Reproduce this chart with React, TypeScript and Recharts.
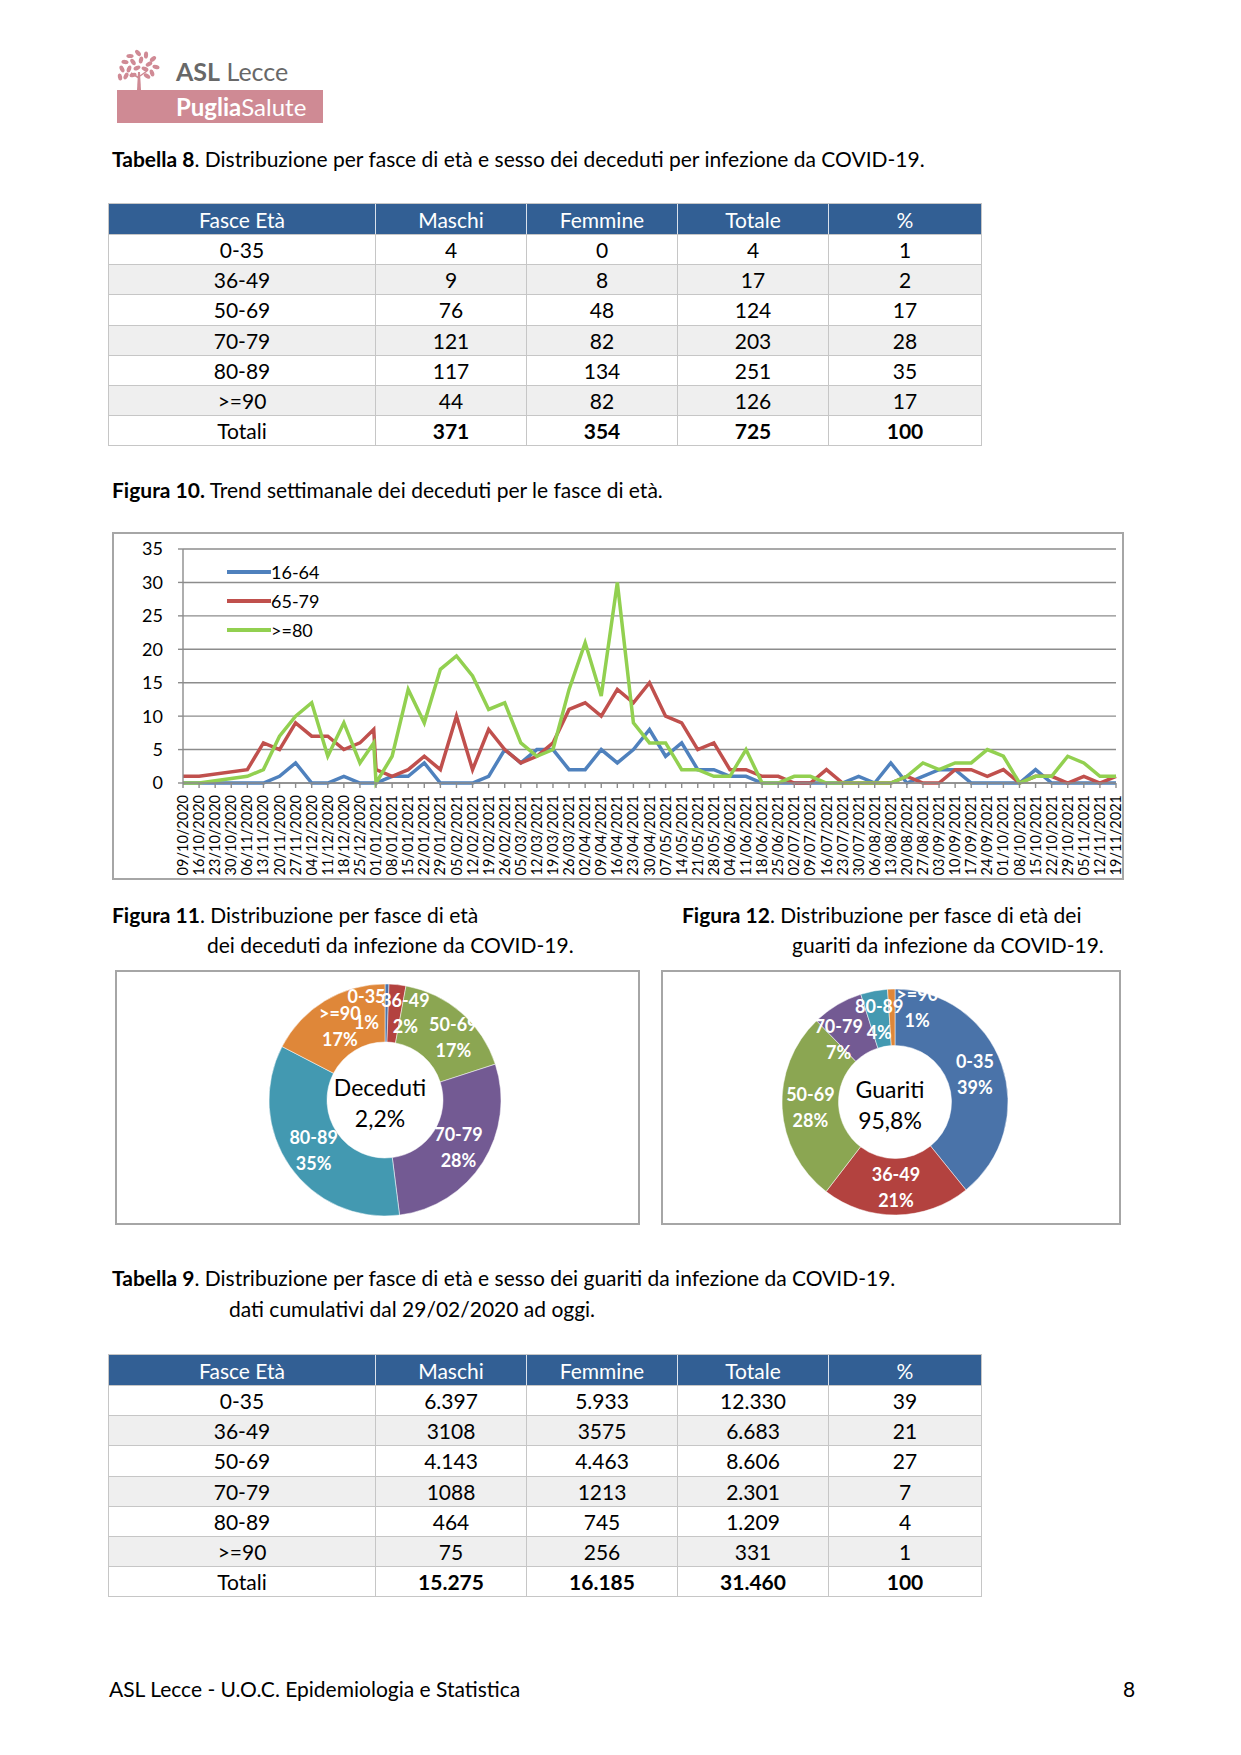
import React from 'react';
import { CartesianGrid, Cell, Line, LineChart, Pie, PieChart, XAxis, YAxis } from 'recharts';

const FONT = 'Lato, "Open Sans", sans-serif';

// ---- tabella 8 / 9
const fasce = ['0-35', '36-49', '50-69', '70-79', '80-89', '>=90'];
const decMaschi = ['4', '9', '76', '121', '117', '44'];
const decFemmine = ['0', '8', '48', '82', '134', '82'];
const decTotale = ['4', '17', '124', '203', '251', '126'];
const decPct = ['1', '2', '17', '28', '35', '17'];
const decTotali = ['371', '354', '725', '100'];

const guarMaschi = ['6.397', '3108', '4.143', '1088', '464', '75'];
const guarFemmine = ['5.933', '3575', '4.463', '1213', '745', '256'];
const guarTotale = ['12.330', '6.683', '8.606', '2.301', '1.209', '331'];
const guarPct = ['39', '21', '27', '7', '4', '1'];
const guarTotali = ['15.275', '16.185', '31.460', '100'];
const guarPieLabelPct = ['39', '21', '28', '7', '4', '1'];

// ---- figura 10
const weekLabels = [
  '09/10/2020', '16/10/2020', '23/10/2020', '30/10/2020', '06/11/2020', '13/11/2020', '20/11/2020', '27/11/2020',
  '04/12/2020', '11/12/2020', '18/12/2020', '25/12/2020', '01/01/2021', '08/01/2021', '15/01/2021', '22/01/2021',
  '29/01/2021', '05/02/2021', '12/02/2021', '19/02/2021', '26/02/2021', '05/03/2021', '12/03/2021', '19/03/2021',
  '26/03/2021', '02/04/2021', '09/04/2021', '16/04/2021', '23/04/2021', '30/04/2021', '07/05/2021', '14/05/2021',
  '21/05/2021', '28/05/2021', '04/06/2021', '11/06/2021', '18/06/2021', '25/06/2021', '02/07/2021', '09/07/2021',
  '16/07/2021', '23/07/2021', '30/07/2021', '06/08/2021', '13/08/2021', '20/08/2021', '27/08/2021', '03/09/2021',
  '10/09/2021', '17/09/2021', '24/09/2021', '01/10/2021', '08/10/2021', '15/10/2021', '22/10/2021', '29/10/2021',
  '05/11/2021', '12/11/2021', '19/11/2021',
];

const pointDates = [
  '09/10/2020', '16/10/2020', '06/11/2020', '13/11/2020', '20/11/2020', '27/11/2020', '04/12/2020', '11/12/2020',
  '18/12/2020', '25/12/2020', '31/12/2020', '01/01/2021', '08/01/2021', '15/01/2021', '22/01/2021', '29/01/2021',
  '05/02/2021', '12/02/2021', '19/02/2021', '26/02/2021', '05/03/2021', '12/03/2021', '19/03/2021', '26/03/2021',
  '02/04/2021', '09/04/2021', '16/04/2021', '23/04/2021', '30/04/2021', '07/05/2021', '14/05/2021', '21/05/2021',
  '28/05/2021', '04/06/2021', '11/06/2021', '18/06/2021', '25/06/2021', '02/07/2021', '09/07/2021', '16/07/2021',
  '23/07/2021', '30/07/2021', '06/08/2021', '13/08/2021', '20/08/2021', '27/08/2021', '03/09/2021', '10/09/2021',
  '17/09/2021', '24/09/2021', '01/10/2021', '08/10/2021', '15/10/2021', '22/10/2021', '29/10/2021', '05/11/2021',
  '12/11/2021', '19/11/2021',
];

const eta16_64 = [
  0, 0, 0, 0, 1, 3, 0, 0, 1, 0, 0,
  0, 1, 1, 3, 0, 0, 0, 1, 5, 3, 5, 5, 2, 2, 5, 3, 5, 8, 4, 6, 2, 2, 1, 1, 0, 0, 0, 0, 0, 0, 1, 0, 3, 0, 1, 2, 2,
  0, 0, 0, 0, 2, 0, 0, 0, 0, 0,
];
const eta65_79 = [
  1, 1, 2, 6, 5, 9, 7, 7, 5, 6, 8,
  2, 1, 2, 4, 2, 10, 2, 8, 5, 3, 4, 6, 11, 12, 10, 14, 12, 15, 10, 9, 5, 6, 2, 2, 1, 1, 0, 0, 2, 0, 0, 0, 0, 1, 0,
  0, 2, 2, 1, 2, 0, 1, 1, 0, 1, 0, 1,
];
const eta80 = [
  0, 0, 1, 2, 7, 10, 12, 4, 9, 3, 6,
  0, 4, 14, 9, 17, 19, 16, 11, 12, 6, 4, 5, 14, 21, 13, 30, 9, 6, 6, 2, 2, 1, 1, 5, 0, 0, 1, 1, 0, 0, 0, 0, 0, 1,
  3, 2, 3, 3, 5, 4, 0, 1, 1, 4, 3, 1, 1,
];
const yTicks = [0, 5, 10, 15, 20, 25, 30, 35];

const toDay = (s: string) => {
  const [d, m, y] = s.split('/').map(Number);
  return Math.round((Date.UTC(y, m - 1, d) - Date.UTC(2020, 9, 9)) / 86400000);
};
const tickDays = weekLabels.map(toDay);
const labelByDay: Record<number, string> = {};
weekLabels.forEach((l, i) => (labelByDay[tickDays[i]] = l));

const trendData = pointDates.map((d, i) => ({
  day: toDay(d),
  a: eta16_64[i],
  b: eta65_79[i],
  c: eta80[i],
}));

const SERIES = [
  { key: 'a', name: '16-64', color: '#4f81bd' },
  { key: 'b', name: '65-79', color: '#c0504d' },
  { key: 'c', name: '>=80', color: '#92d050' },
];

const PIE_COLORS = ['#4a73a9', '#b3423f', '#8ba652', '#735a93', '#4399b1', '#df8739'];

const toNum = (s: string) => Number(s.replace('.', ''));
const decedutiPie = fasce.map((f, i) => ({ name: f, value: toNum(decTotale[i]), pct: decPct[i] }));
const guaritiPie = fasce.map((f, i) => ({ name: f, value: toNum(guarTotale[i]), pct: guarPieLabelPct[i] }));

// Excel pushes crowded labels apart; small nudges (px) for those slices
const DEC_NUDGE: Record<number, number[]> = { 0: [-20, -4], 1: [11, -1], 2: [11, 2] };
const GUA_NUDGE: Record<number, number[]> = { 3: [-13, 10], 5: [25, -10] };

const GRID = '#8c8c8c';
const RAD = Math.PI / 180;

const DateTick = (props: any) => {
  const { x, y, payload } = props;
  return (
    <text
      x={x}
      y={y}
      transform={`rotate(-90 ${x} ${y})`}
      textAnchor="end"
      dy="0.35em"
      fontSize={14.5}
      fontFamily={FONT}
      fill="#000"
    >
      {labelByDay[payload.value]}
    </text>
  );
};

const makeSliceLabel = (nudge: Record<number, number[]>) => (props: any) => {
  const { cx, cy, midAngle, innerRadius, outerRadius, payload, index } = props;
  const r = (innerRadius + outerRadius) / 2;
  const [nx, ny] = nudge[index] || [0, 0];
  const x = cx + r * Math.cos(-midAngle * RAD) + nx;
  const y = cy + r * Math.sin(-midAngle * RAD) + ny;
  return (
    <text x={x} y={y} textAnchor="middle" fill="#fff" fontSize={18} fontWeight={700} fontFamily={FONT}>
      <tspan x={x} dy={-6}>{payload.name}</tspan>
      <tspan x={x} dy={26}>{payload.pct}%</tspan>
    </text>
  );
};

const Txt = ({ x, y, children, size = 21 }: any) => (
  <div style={{ position: 'absolute', left: x, top: y, fontSize: size, lineHeight: '26px', whiteSpace: 'nowrap' }}>
    {children}
  </div>
);

const colW = [267, 151, 151, 151, 152];
const headers = ['Fasce Età', 'Maschi', 'Femmine', 'Totale', '%'];

const DataTable = ({ top, cols, totals }: any) => {
  const rowH = 30.2;
  const cell = (txt: string, j: number, extra: any = {}) => (
    <div
      key={j}
      style={{
        width: colW[j],
        height: '100%',
        display: 'flex',
        alignItems: 'center',
        justifyContent: 'center',
        borderRight: j < 4 ? '1px solid #c6c6c6' : 'none',
        boxSizing: 'border-box',
        ...extra,
      }}
    >
      {txt}
    </div>
  );
  return (
    <div style={{ position: 'absolute', left: 108, top, width: 872, fontSize: 21, border: '1px solid #c6c6c6' }}>
      <div style={{ display: 'flex', height: 30, background: '#325f94', color: '#fff' }}>
        {headers.map((h, j) => cell(h, j, { borderRight: j < 4 ? '1px solid #d9e1ec' : 'none' }))}
      </div>
      {fasce.map((f, i) => (
        <div
          key={f}
          style={{
            display: 'flex',
            height: rowH,
            background: i % 2 === 1 ? '#efefef' : '#fff',
            borderTop: '1px solid #c6c6c6',
            boxSizing: 'border-box',
          }}
        >
          {[f, cols[0][i], cols[1][i], cols[2][i], cols[3][i]].map((t, j) => cell(t, j))}
        </div>
      ))}
      <div style={{ display: 'flex', height: rowH, borderTop: '1px solid #c6c6c6', boxSizing: 'border-box' }}>
        {cell('Totali', 0)}
        {totals.map((t: string, j: number) => cell(t, j + 1, { fontWeight: 700 }))}
      </div>
    </div>
  );
};

const Donut = ({ left, top, w, h, cx, cy, r, data, title, value, nudge }: any) => (
  <div style={{ position: 'absolute', left, top, width: w, height: h }}>
    <div style={{ position: 'absolute', inset: 0, border: '2px solid #a6a6a6', boxSizing: 'border-box' }} />
    <PieChart width={w} height={h} style={{ position: 'absolute', left: 0, top: 0 }}>
      <Pie
        data={data}
        dataKey="value"
        cx={cx}
        cy={cy}
        innerRadius={r / 2}
        outerRadius={r}
        startAngle={90}
        endAngle={-270}
        stroke="#ffffff"
        strokeWidth={0.5}
        label={makeSliceLabel(nudge)}
        labelLine={false}
        isAnimationActive={false}
      >
        {data.map((d: any, i: number) => (
          <Cell key={d.name} fill={PIE_COLORS[i]} />
        ))}
      </Pie>
    </PieChart>
    <div
      style={{
        position: 'absolute',
        left: cx - 60,
        top: cy - 23,
        width: 120,
        textAlign: 'center',
        fontSize: 23,
        lineHeight: '31px',
      }}
    >
      {title}
      <br />
      {value}
    </div>
  </div>
);

const LEAVES = [
  [14, 8], [22, 5], [30, 7], [37, 11], [9, 14], [17, 14], [25, 12], [33, 16], [40, 19], [6, 21], [13, 21], [21, 20],
  [29, 21], [36, 25], [10, 28], [17, 27], [31, 28], [4, 29],
];

export default function App() {
  return (
    <div
      style={{
        position: 'absolute',
        left: 0,
        top: 0,
        width: 1241,
        height: 1755,
        background: '#fff',
        fontFamily: FONT,
        color: '#000',
      }}
    >
      {/* logo */}
      <svg style={{ position: 'absolute', left: 116, top: 48 }} width={46} height={42}>
        <path d="M22 24 L24 24 L25 42 L21 42 Z" fill="#cf8a94" />
        <path d="M23 30 L15 25 M24 28 L31 23" stroke="#cf8a94" strokeWidth={1.5} />
        {LEAVES.map(([x, y], i) => (
          <ellipse key={i} cx={x} cy={y} rx={3.6} ry={2.1} transform={`rotate(${(i * 47) % 180} ${x} ${y})`} fill="#d08a95" />
        ))}
      </svg>
      <div style={{ position: 'absolute', left: 176, top: 56, fontSize: 25, color: '#686868', lineHeight: '30px' }}>
        <b>ASL</b> Lecce
      </div>
      <div
        style={{
          position: 'absolute',
          left: 117,
          top: 90,
          width: 206,
          height: 33,
          background: '#cf8a94',
          color: '#fff',
          fontSize: 24,
          lineHeight: '33px',
          paddingLeft: 59,
          boxSizing: 'border-box',
        }}
      >
        <b>Puglia</b>Salute
      </div>

      <Txt x={112} y={146}>
        <b>Tabella 8</b>. Distribuzione per fasce di età e sesso dei deceduti per infezione da COVID-19.
      </Txt>
      <DataTable top={203} cols={[decMaschi, decFemmine, decTotale, decPct]} totals={decTotali} />

      <Txt x={112} y={477}>
        <b>Figura 10.</b> Trend settimanale dei deceduti per le fasce di età.
      </Txt>

      {/* figura 10 */}
      <div style={{ position: 'absolute', left: 112, top: 532, width: 1012, height: 348 }}>
        <div style={{ position: 'absolute', inset: 0, border: '2px solid #a6a6a6', boxSizing: 'border-box' }} />
        <LineChart
          width={1012}
          height={348}
          data={trendData}
          margin={{ top: 17, right: 8, left: 0, bottom: 0 }}
          style={{ position: 'absolute', left: 0, top: 0 }}
        >
          <CartesianGrid vertical={false} stroke={GRID} strokeWidth={1.4} />
          <XAxis
            dataKey="day"
            type="number"
            domain={[0, tickDays[tickDays.length - 1]]}
            ticks={tickDays}
            interval={0}
            height={97}
            tick={<DateTick />}
            tickSize={5}
            tickMargin={7}
            stroke={GRID}
            strokeWidth={1.4}
          />
          <YAxis
            domain={[0, 35]}
            ticks={yTicks}
            interval={0}
            width={71}
            tickSize={5}
            tickMargin={15}
            stroke={GRID}
            strokeWidth={1.4}
            tick={{ fill: '#000', fontSize: 18, fontFamily: FONT }}
          />
          {SERIES.map((s) => (
            <Line
              key={s.key}
              type="linear"
              dataKey={s.key}
              name={s.name}
              stroke={s.color}
              strokeWidth={3.5}
              dot={false}
              isAnimationActive={false}
            />
          ))}
        </LineChart>
        {SERIES.map((s, i) => (
          <div
            key={s.key}
            style={{
              position: 'absolute',
              left: 115,
              top: 28 + i * 29,
              display: 'flex',
              alignItems: 'center',
              fontSize: 18,
              lineHeight: '24px',
            }}
          >
            <svg width={44} height={24}>
              <line x1={0} y1={12} x2={44} y2={12} stroke={s.color} strokeWidth={4} />
            </svg>
            <span>{s.name}</span>
          </div>
        ))}
      </div>

      <Txt x={112} y={902}>
        <b>Figura 11</b>. Distribuzione per fasce di età
      </Txt>
      <Txt x={207} y={932}>dei deceduti da infezione da COVID-19.</Txt>
      <Txt x={682} y={902}>
        <b>Figura 12</b>. Distribuzione per fasce di età dei
      </Txt>
      <Txt x={792} y={932}>guariti da infezione da COVID-19.</Txt>

      <Donut
        left={115}
        top={970}
        w={525}
        h={255}
        cx={265}
        cy={125}
        r={116}
        data={decedutiPie}
        title="Deceduti"
        value="2,2%"
        nudge={DEC_NUDGE}
      />
      <Donut
        left={661}
        top={970}
        w={460}
        h={255}
        cx={229}
        cy={127}
        r={113}
        data={guaritiPie}
        title="Guariti"
        value="95,8%"
        nudge={GUA_NUDGE}
      />

      <Txt x={112} y={1265}>
        <b>Tabella 9</b>. Distribuzione per fasce di età e sesso dei guariti da infezione da COVID-19.
      </Txt>
      <Txt x={229} y={1296}>dati cumulativi dal 29/02/2020 ad oggi.</Txt>
      <DataTable top={1354} cols={[guarMaschi, guarFemmine, guarTotale, guarPct]} totals={guarTotali} />

      <Txt x={109} y={1676}>ASL Lecce - U.O.C. Epidemiologia e Statistica</Txt>
      <Txt x={1123} y={1676}>8</Txt>
    </div>
  );
}
